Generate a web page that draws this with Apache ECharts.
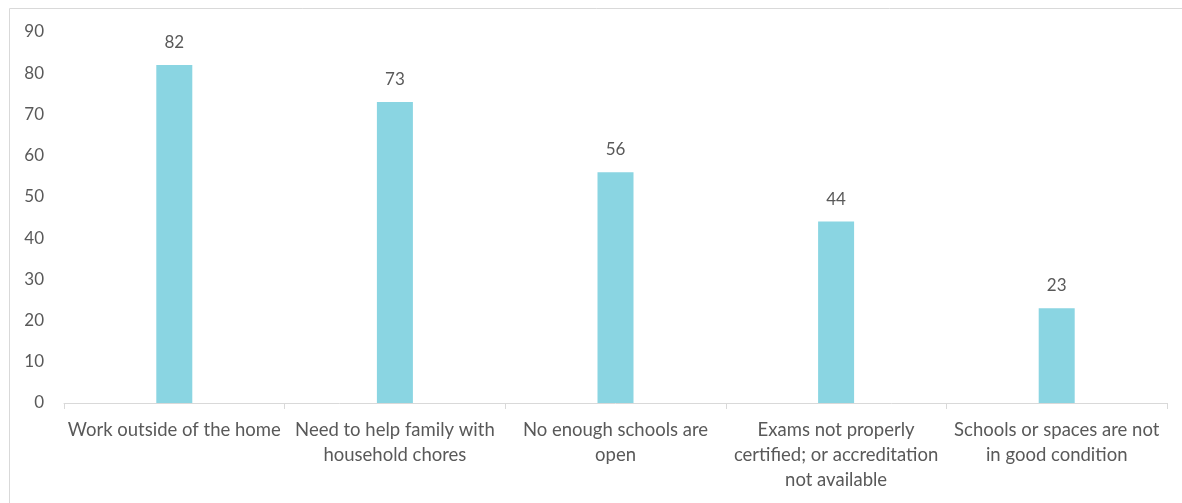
<!DOCTYPE html>
<html>
<head>
<meta charset="utf-8">
<script src="https://cdn.jsdelivr.net/npm/echarts@6/dist/echarts.min.js"></script>
<style>
  html, body { margin: 0; padding: 0; background: #fff; }
  #chart { width: 1182px; height: 503px; }
</style>
</head>
<body>
<div id="chart"></div>
<script>
const categories = [
  'Work outside of the home',
  'Need to help family with\nhousehold chores',
  'No enough schools are\nopen',
  'Exams not properly\ncertified; or accreditation\nnot available',
  'Schools or spaces are not\nin good condition'
];
const values = [82, 73, 56, 44, 23];
const yTicks = [0, 10, 20, 30, 40, 50, 60, 70, 80, 90];

const textColor = '#595959';
const fontFamily = 'Lato, "Open Sans", sans-serif';

const chart = echarts.init(document.getElementById('chart'));
chart.setOption({
  animation: false,
  textStyle: { fontFamily: fontFamily },
  graphic: [{
    type: 'rect',
    shape: { x: 9.5, y: 8.5, width: 1200, height: 600 },
    style: { fill: 'none', stroke: '#D9D9D9', lineWidth: 1 },
    silent: true
  }],
  grid: { left: 64, right: 15, top: 32, bottom: 100, containLabel: false },
  xAxis: {
    type: 'category',
    data: categories,
    axisLine: { lineStyle: { color: '#D9D9D9', width: 1 } },
    axisTick: { show: true, length: 6, lineStyle: { color: '#D9D9D9' } },
    axisLabel: {
      color: textColor,
      fontSize: 18.5,
      lineHeight: 25,
      margin: 15,
      interval: 0,
      fontFamily: fontFamily
    }
  },
  yAxis: {
    type: 'value',
    min: yTicks[0],
    max: yTicks[yTicks.length - 1],
    interval: 10,
    axisLine: { show: false },
    axisTick: { show: false },
    splitLine: { show: false },
    axisLabel: {
      color: textColor,
      fontSize: 17,
      margin: 20,
      fontFamily: fontFamily
    }
  },
  series: [{
    type: 'bar',
    data: values,
    barWidth: 36,
    itemStyle: { color: '#8AD5E2' },
    label: {
      show: true,
      position: 'top',
      distance: 14,
      color: textColor,
      fontSize: 17,
      fontFamily: fontFamily
    }
  }]
});
</script>
</body>
</html>
